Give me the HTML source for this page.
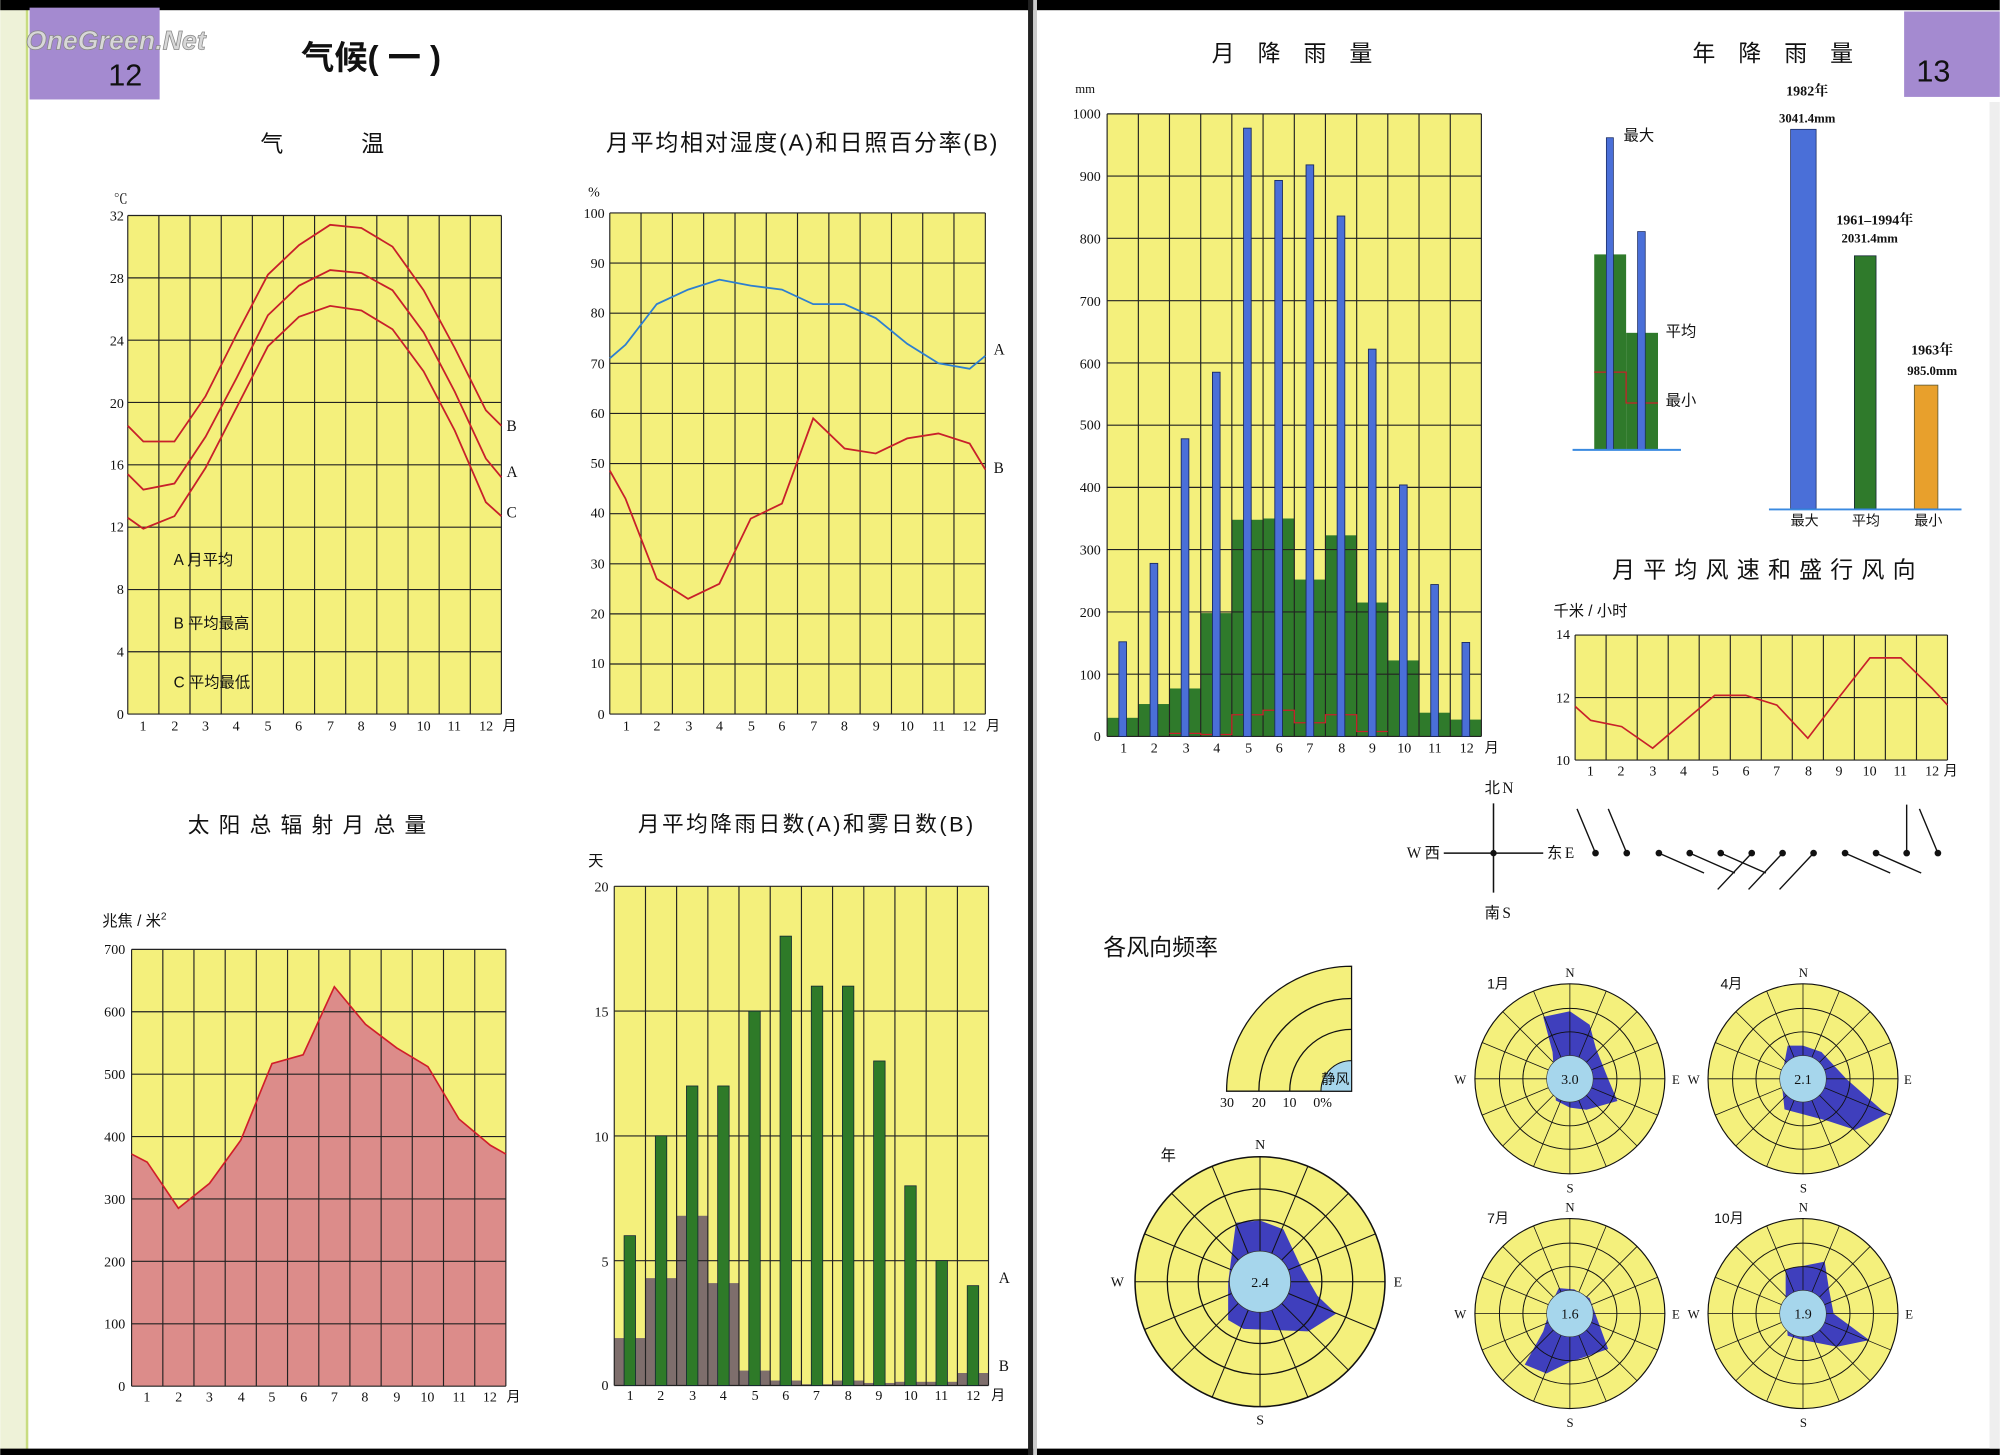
<!DOCTYPE html>
<html><head><meta charset="utf-8"><style>
html,body{margin:0;padding:0;background:#fff}
svg{display:block}
.s{font-family:"Liberation Serif","Noto Serif CJK SC",serif;fill:#111}
.c{font-family:"Liberation Sans","Noto Sans CJK SC",sans-serif;fill:#111}
.g{stroke:#222;stroke-width:0.9;fill:none}
</style></head><body>
<svg width="2000" height="1455" viewBox="0 0 1568 1141" xmlns="http://www.w3.org/2000/svg">
<defs>
<g id="grid">
<circle r="98" fill="none" stroke="#111" stroke-width="1.2"/>
<circle r="72.7" fill="none" stroke="#111" stroke-width="1"/>
<circle r="48.5" fill="none" stroke="#111" stroke-width="1"/>
<path d="M0,-98L0,98M37.5,-90.5L-37.5,90.5M69.3,-69.3L-69.3,69.3M90.5,-37.5L-90.5,37.5M98,0L-98,0M90.5,37.5L-90.5,-37.5M69.3,69.3L-69.3,-69.3M37.5,90.5L-37.5,-90.5" stroke="#111" stroke-width="0.8"/>
<circle r="24" fill="#a6d6ec" stroke="#333" stroke-width="0.6"/>
</g>
</defs>
<rect width="1568" height="1141" fill="#fff"/>
<rect x="0" y="0" width="20" height="1141" fill="#eef2d8"/>
<line x1="21" y1="0" x2="21" y2="1141" stroke="#c8dc80" stroke-width="2"/>
<rect x="0" y="0" width="1568" height="8" fill="#000"/>
<rect x="0" y="1136" width="1568" height="5" fill="#000"/>
<rect x="806" y="0" width="4" height="1141" fill="#222"/>
<rect x="810" y="0" width="3" height="1141" fill="#ccc"/>
<rect x="1560" y="80" width="8" height="1056" fill="#eee"/>

<rect x="23" y="6" width="102" height="72" fill="#a48ad0"/>
<text x="98" y="67" class="c" font-size="24" text-anchor="middle" fill="#222">12</text>
<text x="20" y="39" font-family="Liberation Sans,sans-serif" font-style="italic" font-weight="bold" font-size="21" fill="#d8d8d8" stroke="#888" stroke-width="0.6">OneGreen.Net</text>
<rect x="1493" y="9" width="75" height="67" fill="#a48ad0"/>
<text x="1516" y="64" class="c" font-size="24" text-anchor="middle" fill="#222">13</text>

<text x="236" y="54" class="c" font-size="26" font-weight="bold">气候( 一 )</text>

<!-- Temperature -->
<text x="204" y="119" class="c" font-size="18">气</text>
<text x="283" y="119" class="c" font-size="18">温</text>
<rect x="100" y="169" width="293" height="391" fill="#f4f07c"/>
<path class="g" d="M100,169V560M124.4,169V560M148.8,169V560M173.3,169V560M197.7,169V560M222.1,169V560M246.5,169V560M270.9,169V560M295.3,169V560M319.8,169V560M344.2,169V560M368.6,169V560M393,169V560M100,169H393M100,217.9H393M100,266.8H393M100,315.6H393M100,364.5H393M100,413.4H393M100,462.3H393M100,511.1H393M100,560H393"/>
<g fill="none" stroke="#c8202a" stroke-width="1.4">
<polyline points="100,333.9 112.2,346.2 136.6,346.2 161,310.7 185.5,261.9 209.9,215.4 234.3,192.2 258.7,176.3 283.2,178.8 307.6,193.4 332,227.6 356.4,272.9 380.8,321.7 393,333.9"/>
<polyline points="100,371.8 112.2,384 136.6,379.2 161,342.5 185.5,296.1 209.9,247.2 234.3,224 258.7,211.8 283.2,214.2 307.6,227.6 332,260.6 356.4,307.1 380.8,359.6 393,374.3"/>
<polyline points="100,406 112.2,414.6 136.6,404.8 161,366.9 185.5,319.3 209.9,271.6 234.3,248.4 258.7,239.9 283.2,243.5 307.6,258.2 332,291.2 356.4,337.6 380.8,393.8 393,404.8"/>
</g>
<g class="s" font-size="11" text-anchor="end">
<text x="97" y="173">32</text><text x="97" y="222">28</text><text x="97" y="271">24</text><text x="97" y="320">20</text><text x="97" y="368">16</text><text x="97" y="417">12</text><text x="97" y="466">8</text><text x="97" y="515">4</text><text x="97" y="564">0</text>
</g>
<text x="89" y="160" class="s" font-size="11">℃</text>
<g class="s" font-size="11" text-anchor="middle">
<text x="112" y="573">1</text><text x="137" y="573">2</text><text x="161" y="573">3</text><text x="185" y="573">4</text><text x="210" y="573">5</text><text x="234" y="573">6</text><text x="259" y="573">7</text><text x="283" y="573">8</text><text x="308" y="573">9</text><text x="332" y="573">10</text><text x="356" y="573">11</text><text x="381" y="573">12</text>
</g>
<text x="394" y="573" class="c" font-size="11">月</text>
<g class="s" font-size="12"><text x="397" y="338">B</text><text x="397" y="374">A</text><text x="397" y="406">C</text></g>
<g class="c" font-size="12"><text x="136" y="443">A 月平均</text><text x="136" y="493">B 平均最高</text><text x="136" y="539">C 平均最低</text></g>

<!-- Humidity -->
<text x="475" y="118" class="c" font-size="18" textLength="307">月平均相对湿度(A)和日照百分率(B)</text>
<rect x="478" y="167" width="294.5" height="393" fill="#f4f07c"/>
<path class="g" d="M478,167V560M502.5,167V560M527.1,167V560M551.6,167V560M576.2,167V560M600.7,167V560M625.2,167V560M649.8,167V560M674.3,167V560M698.9,167V560M723.4,167V560M747.9,167V560M772.5,167V560M478,560H772.5M478,520.7H772.5M478,481.4H772.5M478,442.1H772.5M478,402.8H772.5M478,363.5H772.5M478,324.2H772.5M478,284.9H772.5M478,245.6H772.5M478,206.3H772.5M478,167H772.5"/>
<polyline fill="none" stroke="#2d7fd0" stroke-width="1.4" points="478,281 490.3,270.4 514.8,238.5 539.4,227.1 563.9,219.3 588.5,224 613,227.1 637.5,238.5 662.1,238.5 686.6,249.5 711.2,269.6 735.7,284.9 760.2,289.2 772.5,279"/>
<polyline fill="none" stroke="#c8202a" stroke-width="1.4" points="478,369 490.3,391 514.8,453.9 539.4,469.6 563.9,457.8 588.5,406.7 613,394.9 637.5,328.1 662.1,351.7 686.6,355.6 711.2,343.8 735.7,339.9 760.2,347.8 772.5,368.2"/>
<g class="s" font-size="11" text-anchor="end">
<text x="474" y="171">100</text><text x="474" y="210">90</text><text x="474" y="249">80</text><text x="474" y="289">70</text><text x="474" y="328">60</text><text x="474" y="367">50</text><text x="474" y="406">40</text><text x="474" y="446">30</text><text x="474" y="485">20</text><text x="474" y="524">10</text><text x="474" y="564">0</text>
</g>
<text x="461" y="154" class="s" font-size="11">%</text>
<g class="s" font-size="11" text-anchor="middle">
<text x="491" y="573">1</text><text x="515" y="573">2</text><text x="540" y="573">3</text><text x="564" y="573">4</text><text x="589" y="573">5</text><text x="613" y="573">6</text><text x="638" y="573">7</text><text x="662" y="573">8</text><text x="687" y="573">9</text><text x="711" y="573">10</text><text x="736" y="573">11</text><text x="760" y="573">12</text>
</g>
<text x="773" y="573" class="c" font-size="11">月</text>
<g class="s" font-size="12"><text x="779" y="278">A</text><text x="779" y="371">B</text></g>

<!-- Solar -->
<text x="147" y="653" class="c" font-size="17" textLength="187">太阳总辐射月总量</text>
<text x="80" y="726" class="c" font-size="12">兆焦 / 米<tspan font-size="8" dy="-5">2</tspan></text>
<rect x="103" y="744.5" width="293.5" height="342.5" fill="#f4f07c"/>
<polygon fill="#dc8c8a" points="103,905 115.2,911.3 139.7,947.5 164.1,928 188.6,894.2 213.1,834 237.5,827.2 262,773.8 286.4,803.2 310.9,821.8 335.4,836.5 359.8,877.6 384.3,898.1 396.5,905 396.5,1087 103,1087"/>
<path class="g" d="M103,744.5V1087M127.5,744.5V1087M151.9,744.5V1087M176.4,744.5V1087M200.8,744.5V1087M225.3,744.5V1087M249.8,744.5V1087M274.2,744.5V1087M298.7,744.5V1087M323.1,744.5V1087M347.6,744.5V1087M372.1,744.5V1087M396.5,744.5V1087M103,1087H396.5M103,1038.1H396.5M103,989.1H396.5M103,940.2H396.5M103,891.3H396.5M103,842.4H396.5M103,793.4H396.5M103,744.5H396.5"/>
<polyline fill="none" stroke="#d01e2a" stroke-width="1.3" points="103,905 115.2,911.3 139.7,947.5 164.1,928 188.6,894.2 213.1,834 237.5,827.2 262,773.8 286.4,803.2 310.9,821.8 335.4,836.5 359.8,877.6 384.3,898.1 396.5,905"/>
<g class="s" font-size="11" text-anchor="end">
<text x="98" y="748">700</text><text x="98" y="797">600</text><text x="98" y="846">500</text><text x="98" y="895">400</text><text x="98" y="944">300</text><text x="98" y="993">200</text><text x="98" y="1042">100</text><text x="98" y="1091">0</text>
</g>
<g class="s" font-size="11" text-anchor="middle">
<text x="115" y="1099">1</text><text x="140" y="1099">2</text><text x="164" y="1099">3</text><text x="189" y="1099">4</text><text x="213" y="1099">5</text><text x="238" y="1099">6</text><text x="262" y="1099">7</text><text x="286" y="1099">8</text><text x="311" y="1099">9</text><text x="335" y="1099">10</text><text x="360" y="1099">11</text><text x="384" y="1099">12</text>
</g>
<text x="397" y="1099" class="c" font-size="11">月</text>

<!-- Rain days -->
<text x="500" y="652" class="c" font-size="17" textLength="263">月平均降雨日数(A)和雾日数(B)</text>
<rect x="481.5" y="695" width="293.5" height="391.5" fill="#f4f07c"/>
<g fill="#7e6e6c">
<rect x="481.5" y="1049.3" width="24.5" height="37.2"/><rect x="506" y="1002.3" width="24.4" height="84.2"/><rect x="530.4" y="953.4" width="24.5" height="133.1"/><rect x="554.9" y="1006.2" width="24.4" height="80.3"/><rect x="579.3" y="1074.8" width="24.5" height="11.7"/><rect x="603.8" y="1082.6" width="24.5" height="3.9"/><rect x="628.3" y="1085.5" width="24.4" height="1"/><rect x="652.7" y="1082.6" width="24.5" height="3.9"/><rect x="677.2" y="1084.5" width="24.4" height="2"/><rect x="701.6" y="1083.6" width="24.5" height="2.9"/><rect x="726.1" y="1083.6" width="24.5" height="2.9"/><rect x="750.6" y="1076.7" width="24.4" height="9.8"/>
</g>
<path class="g" d="M481.5,695V1086.5M506,695V1086.5M530.4,695V1086.5M554.9,695V1086.5M579.3,695V1086.5M603.8,695V1086.5M628.3,695V1086.5M652.7,695V1086.5M677.2,695V1086.5M701.6,695V1086.5M726.1,695V1086.5M750.6,695V1086.5M775,695V1086.5M481.5,1086.5H775M481.5,988.6H775M481.5,890.8H775M481.5,792.9H775M481.5,695H775"/>
<g fill="#2e7a28" stroke="#123" stroke-width="0.6">
<rect x="489.2" y="969" width="9" height="117.5"/><rect x="513.7" y="890.7" width="9" height="195.8"/><rect x="538.1" y="851.6" width="9" height="234.9"/><rect x="562.6" y="851.6" width="9" height="234.9"/><rect x="587" y="792.9" width="9" height="293.6"/><rect x="611.5" y="734.1" width="9" height="352.4"/><rect x="636" y="773.3" width="9" height="313.2"/><rect x="660.4" y="773.3" width="9" height="313.2"/><rect x="684.9" y="832" width="9" height="254.5"/><rect x="709.3" y="929.9" width="9" height="156.6"/><rect x="733.8" y="988.6" width="9" height="97.9"/><rect x="758.3" y="1008.2" width="9" height="78.3"/>
</g>
<g class="s" font-size="11" text-anchor="end">
<text x="477" y="699">20</text><text x="477" y="797">15</text><text x="477" y="895">10</text><text x="477" y="993">5</text><text x="477" y="1090">0</text>
</g>
<text x="461" y="679" class="c" font-size="12">天</text>
<g class="s" font-size="11" text-anchor="middle">
<text x="494" y="1098">1</text><text x="518" y="1098">2</text><text x="543" y="1098">3</text><text x="567" y="1098">4</text><text x="592" y="1098">5</text><text x="616" y="1098">6</text><text x="640" y="1098">7</text><text x="665" y="1098">8</text><text x="689" y="1098">9</text><text x="714" y="1098">10</text><text x="738" y="1098">11</text><text x="763" y="1098">12</text>
</g>
<text x="777" y="1098" class="c" font-size="11">月</text>
<g class="s" font-size="12"><text x="783" y="1006">A</text><text x="783" y="1075">B</text></g>

<!-- Monthly rainfall -->
<text x="950" y="48" class="c" font-size="18" textLength="126">月降雨量</text>
<text x="843" y="73" class="s" font-size="10">mm</text>
<rect x="868" y="89.3" width="293.5" height="488.2" fill="#f4f07c"/>
<g fill="#2f7a2b">
<rect x="868" y="562.9" width="24.5" height="14.6"/><rect x="892.5" y="552.1" width="24.4" height="25.4"/><rect x="916.9" y="539.9" width="24.5" height="37.6"/><rect x="941.4" y="480.8" width="24.4" height="96.7"/><rect x="965.8" y="407.6" width="24.5" height="169.9"/><rect x="990.3" y="406.6" width="24.5" height="170.9"/><rect x="1014.8" y="454.5" width="24.4" height="123"/><rect x="1039.2" y="419.8" width="24.5" height="157.7"/><rect x="1063.7" y="472.5" width="24.4" height="105"/><rect x="1088.1" y="517.9" width="24.5" height="59.6"/><rect x="1112.6" y="558.9" width="24.5" height="18.6"/><rect x="1137.1" y="564.3" width="24.4" height="13.2"/>
</g>
<path class="g" d="M868,89.3V577.5M892.5,89.3V577.5M916.9,89.3V577.5M941.4,89.3V577.5M965.8,89.3V577.5M990.3,89.3V577.5M1014.8,89.3V577.5M1039.2,89.3V577.5M1063.7,89.3V577.5M1088.1,89.3V577.5M1112.6,89.3V577.5M1137.1,89.3V577.5M1161.5,89.3V577.5M868,577.5H1161.5M868,528.7H1161.5M868,479.9H1161.5M868,431H1161.5M868,382.2H1161.5M868,333.4H1161.5M868,284.6H1161.5M868,235.8H1161.5M868,186.9H1161.5M868,138.1H1161.5M868,89.3H1161.5"/>
<polyline fill="none" stroke="#c8202a" stroke-width="1" points="916.9,575.1 941.4,575.1 941.4,576 965.8,576 965.8,560.5 990.3,560.5 990.3,557 1014.8,557 1014.8,566.8 1039.2,566.8 1039.2,560.5 1063.7,560.5 1063.7,573.6 1088.1,573.6"/>
<g fill="#4a6fd8" stroke="#1a2a60" stroke-width="0.7">
<rect x="877.2" y="503.3" width="6" height="74.2"/><rect x="901.7" y="441.8" width="6" height="135.7"/><rect x="926.1" y="344.1" width="6" height="233.4"/><rect x="950.6" y="291.9" width="6" height="285.6"/><rect x="975" y="100.5" width="6" height="477"/><rect x="999.5" y="141.5" width="6" height="436"/><rect x="1024" y="129.3" width="6" height="448.2"/><rect x="1048.4" y="169.4" width="6" height="408.1"/><rect x="1072.9" y="273.8" width="6" height="303.7"/><rect x="1097.3" y="380.3" width="6" height="197.2"/><rect x="1121.8" y="458.4" width="6" height="119.1"/><rect x="1146.3" y="503.8" width="6" height="73.7"/>
</g>
<g class="s" font-size="11" text-anchor="end">
<text x="863" y="93">1000</text><text x="863" y="142">900</text><text x="863" y="191">800</text><text x="863" y="240">700</text><text x="863" y="289">600</text><text x="863" y="337">500</text><text x="863" y="386">400</text><text x="863" y="435">300</text><text x="863" y="484">200</text><text x="863" y="533">100</text><text x="863" y="581">0</text>
</g>
<g class="s" font-size="11" text-anchor="middle">
<text x="881" y="590">1</text><text x="905" y="590">2</text><text x="930" y="590">3</text><text x="954" y="590">4</text><text x="979" y="590">5</text><text x="1003" y="590">6</text><text x="1027" y="590">7</text><text x="1052" y="590">8</text><text x="1076" y="590">9</text><text x="1101" y="590">10</text><text x="1125" y="590">11</text><text x="1150" y="590">12</text>
</g>
<text x="1164" y="590" class="c" font-size="11">月</text>

<!-- Annual rainfall -->
<text x="1327" y="48" class="c" font-size="18" textLength="126">年降雨量</text>
<g fill="#2f7a2b"><rect x="1250" y="199.5" width="25" height="153"/><rect x="1275" y="261" width="25" height="91.5"/></g>
<polyline fill="none" stroke="#c8202a" stroke-width="1" points="1250,291.8 1275,291.8 1275,316 1300,316"/>
<g fill="#4a6fd8" stroke="#1a2a60" stroke-width="0.6"><rect x="1259.5" y="108" width="5.5" height="244.5"/><rect x="1284" y="181.6" width="6" height="171"/></g>
<line x1="1233" y1="352.8" x2="1318" y2="352.8" stroke="#3a8ae0" stroke-width="1.5"/>
<g class="c" font-size="12"><text x="1273" y="110">最大</text><text x="1306" y="264">平均</text><text x="1306" y="318">最小</text></g>
<rect x="1404" y="101.4" width="20" height="297.6" fill="#4a6fd8" stroke="#1a2a60" stroke-width="0.6"/>
<rect x="1454" y="200.6" width="17" height="198.4" fill="#2f7a2b" stroke="#123" stroke-width="0.6"/>
<rect x="1501" y="302" width="18.5" height="97" fill="#e8a02c" stroke="#553" stroke-width="0.6"/>
<line x1="1387" y1="399.5" x2="1538" y2="399.5" stroke="#3a8ae0" stroke-width="1.5"/>
<g class="c" font-size="11" text-anchor="middle"><text x="1415" y="412">最大</text><text x="1463" y="412">平均</text><text x="1512" y="412">最小</text></g>
<g class="s" font-size="11" text-anchor="middle" font-weight="bold">
<text x="1417" y="75">1982年</text><text x="1417" y="96" font-size="10">3041.4mm</text>
<text x="1470" y="176" font-size="11">1961–1994年</text><text x="1466" y="190" font-size="10">2031.4mm</text>
<text x="1515" y="278">1963年</text><text x="1515" y="294" font-size="10">985.0mm</text>
</g>

<!-- Wind speed -->
<text x="1264" y="453" class="c" font-size="18" textLength="238">月平均风速和盛行风向</text>
<text x="1218" y="483" class="c" font-size="12">千米 / 小时</text>
<rect x="1235" y="498" width="292" height="98" fill="#f4f07c"/>
<path class="g" d="M1235,498V596M1259.3,498V596M1283.7,498V596M1308,498V596M1332.3,498V596M1356.7,498V596M1381,498V596M1405.3,498V596M1429.7,498V596M1454,498V596M1478.3,498V596M1502.7,498V596M1527,498V596M1235,498H1527M1235,547H1527M1235,596H1527"/>
<polyline fill="none" stroke="#c8202a" stroke-width="1.3" points="1235,553.9 1247.2,564.9 1271.5,569.8 1295.8,586.7 1320.2,565.9 1344.5,545.3 1368.8,545.3 1393.2,552.9 1417.5,578.9 1441.8,547 1466.2,515.9 1490.5,515.9 1514.8,539.7 1527,552.9"/>
<g class="s" font-size="11" text-anchor="end"><text x="1231" y="501">14</text><text x="1231" y="551">12</text><text x="1231" y="600">10</text></g>
<g class="s" font-size="11" text-anchor="middle">
<text x="1247" y="608">1</text><text x="1271" y="608">2</text><text x="1296" y="608">3</text><text x="1320" y="608">4</text><text x="1345" y="608">5</text><text x="1369" y="608">6</text><text x="1393" y="608">7</text><text x="1418" y="608">8</text><text x="1442" y="608">9</text><text x="1466" y="608">10</text><text x="1490" y="608">11</text><text x="1515" y="608">12</text>
</g>
<text x="1524" y="608" class="c" font-size="11">月</text>
<path d="M1171,630V700M1132,669H1210" stroke="#111" stroke-width="1.2"/>
<circle cx="1171" cy="669" r="2.5" fill="#111"/>
<g class="c" font-size="12"><text x="1164" y="622">北</text><text x="1178" y="622" class="s">N</text><text x="1103" y="673" class="s">W</text><text x="1117" y="673">西</text><text x="1213" y="673">东</text><text x="1227" y="673" class="s">E</text><text x="1164" y="720">南</text><text x="1178" y="720" class="s">S</text></g>
<g stroke="#111" stroke-width="1.1">
<path d="M1251,669l-14.5,-34.7M1275.5,669l-14.5,-34.7M1300.7,669l35.4,15.6M1324.9,669l35.4,15.6M1349.2,669l35.4,15.6M1373.5,669l-26.7,28.5M1397.7,669l-26.7,28.5M1422,669l-26.7,28.5M1446.7,669l35.4,15.6M1471,669l35.4,15.6M1495,669v-38M1519.5,669l-14.5,-34.7"/>
</g>
<g fill="#111"><circle cx="1251" cy="669" r="2.6"/><circle cx="1275.5" cy="669" r="2.6"/><circle cx="1300.7" cy="669" r="2.6"/><circle cx="1324.9" cy="669" r="2.6"/><circle cx="1349.2" cy="669" r="2.6"/><circle cx="1373.5" cy="669" r="2.6"/><circle cx="1397.7" cy="669" r="2.6"/><circle cx="1422" cy="669" r="2.6"/><circle cx="1446.7" cy="669" r="2.6"/><circle cx="1471" cy="669" r="2.6"/><circle cx="1495" cy="669" r="2.6"/><circle cx="1519.5" cy="669" r="2.6"/></g>

<!-- Wind roses -->
<text x="865" y="749" class="c" font-size="18">各风向频率</text>
<path d="M1059.7,855.7L961.7,855.7A98,98 0 0 1 1059.7,757.7Z" fill="#f4f07c" stroke="#111" stroke-width="1"/>
<path d="M987,855.7A72.7,72.7 0 0 1 1059.7,783M1011.2,855.7A48.5,48.5 0 0 1 1059.7,807.2" fill="none" stroke="#111" stroke-width="1"/>
<path d="M1059.7,855.7L1035.7,855.7A24,24 0 0 1 1059.7,831.7Z" fill="#a6d6ec" stroke="#111" stroke-width="0.8"/>
<text x="1036" y="850" class="c" font-size="11">静风</text>
<g class="s" font-size="11" text-anchor="middle"><text x="962" y="868">30</text><text x="987" y="868">20</text><text x="1011" y="868">10</text><text x="1037" y="868">0%</text></g>

<g transform="translate(987.9,1005.1)">
<circle r="98" fill="#f4f07c"/>
<polygon fill="#3f3fbd" points="-18.9,-46.2 0,-48 18.4,-41 33,-9.7 45,11 59.7,25 37.8,39 -13,37 -25,30 -25,0.7"/>
<use href="#grid"/>
<text y="4" class="s" font-size="11" text-anchor="middle">2.4</text>
</g>
<g class="s" font-size="11" text-anchor="middle"><text x="988" y="901">N</text><text x="988" y="1117">S</text><text x="876" y="1009">W</text><text x="1096" y="1009">E</text></g>
<text x="910" y="910" class="c" font-size="12">年</text>

<g transform="translate(1230.9,846)">
<circle r="74.5" fill="#f4f07c"/>
<polygon fill="#3f3fbd" points="-20.9,-48.6 0,-53 15.5,-42.4 20.4,-24 30,0 37.3,17.4 13,24.3 0,22.6 -11,17 -13.6,-21"/>
<use href="#grid" transform="scale(0.76)"/>
<text y="4" class="s" font-size="11" text-anchor="middle">3.0</text>
</g>
<g class="s" font-size="10" text-anchor="middle"><text x="1231" y="766">N</text><text x="1231" y="935">S</text><text x="1145" y="850">W</text><text x="1314" y="850">E</text></g>
<text x="1166" y="775" class="c" font-size="11">1月</text>

<g transform="translate(1413.7,846)">
<circle r="74.5" fill="#f4f07c"/>
<polygon fill="#3f3fbd" points="-12,-26 0,-26 14.5,-21 34,0 65.5,27.8 41,40 19.4,33 0,27.8 -14.5,24 -17,0"/>
<use href="#grid" transform="scale(0.76)"/>
<text y="4" class="s" font-size="11" text-anchor="middle">2.1</text>
</g>
<g class="s" font-size="10" text-anchor="middle"><text x="1414" y="766">N</text><text x="1414" y="935">S</text><text x="1328" y="850">W</text><text x="1496" y="850">E</text></g>
<text x="1349" y="775" class="c" font-size="11">4月</text>

<g transform="translate(1230.9,1030.1)">
<circle r="74.5" fill="#f4f07c"/>
<polygon fill="#3f3fbd" points="-8.7,-20 3.4,-19 15.5,-12 30,27.8 0,38 -18.4,47 -35.4,40 -20.9,14 -13.6,-10"/>
<use href="#grid" transform="scale(0.76)"/>
<text y="4" class="s" font-size="11" text-anchor="middle">1.6</text>
</g>
<g class="s" font-size="10" text-anchor="middle"><text x="1231" y="950">N</text><text x="1231" y="1119">S</text><text x="1145" y="1034">W</text><text x="1314" y="1034">E</text></g>
<text x="1166" y="959" class="c" font-size="11">7月</text>

<g transform="translate(1413.7,1030.1)">
<circle r="74.5" fill="#f4f07c"/>
<polygon fill="#3f3fbd" points="-13.6,-34.7 17,-40.7 20.4,-19 24,0 52,20.8 26.7,26 0,20.8 -12,17.4 -13.6,0"/>
<use href="#grid" transform="scale(0.76)"/>
<text y="4" class="s" font-size="11" text-anchor="middle">1.9</text>
</g>
<g class="s" font-size="10" text-anchor="middle"><text x="1414" y="950">N</text><text x="1414" y="1119">S</text><text x="1328" y="1034">W</text><text x="1497" y="1034">E</text></g>
<text x="1344" y="959" class="c" font-size="11">10月</text>
</svg>
</body></html>
